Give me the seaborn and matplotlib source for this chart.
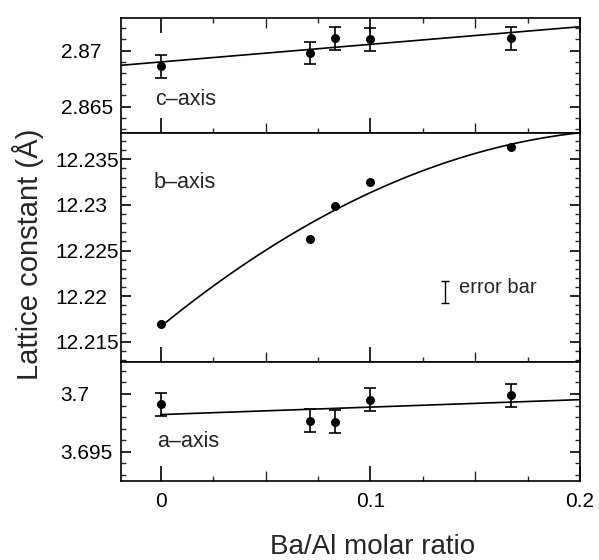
import numpy as np
import pandas as pd
import matplotlib
matplotlib.use("Agg")
import matplotlib.pyplot as plt
from matplotlib.ticker import MultipleLocator, FixedLocator, FuncFormatter, FormatStrFormatter
import seaborn as sns

# ---------------- data ----------------
ratio = [0.0, 0.071, 0.083, 0.100, 0.167]          # Ba/Al molar ratio
c_axis = [2.8686, 2.8698, 2.8711, 2.8710, 2.8711]   # c-axis (Å)
c_err = [0.001, 0.001, 0.001, 0.001, 0.001]
b_axis = [12.2169, 12.2263, 12.2299, 12.2325, 12.2364]  # b-axis (Å)
a_axis = [3.6991, 3.6977, 3.6976, 3.6995, 3.6999]   # a-axis (Å)
a_err = [0.001, 0.001, 0.001, 0.001, 0.001]

key_x = [0.1357]        # "error bar" key
key_y = [12.2205]
key_err = [0.0012]

x_tick_labels = ["0", "0.1", "0.2"]
panel_names = ["c\u2013axis", "b\u2013axis", "a\u2013axis"]

df = pd.DataFrame({"ratio": ratio, "c": c_axis, "b": b_axis, "a": a_axis})

# ---------------- style ----------------
sns.set_theme(style="ticks")
plt.rcParams["font.family"] = ["Liberation Sans", "DejaVu Sans"]
plt.rcParams["axes.linewidth"] = 1.2
plt.rcParams["axes.edgecolor"] = "black"

fig = plt.figure(figsize=(5.99, 5.60), dpi=100)
L, W = 121 / 599, (580 - 121) / 599
ax_c = fig.add_axes([L, 1 - 133 / 560, W, 115 / 560])
ax_b = fig.add_axes([L, 1 - 362 / 560, W, 229 / 560])
ax_a = fig.add_axes([L, 1 - 481 / 560, W, 119 / 560])

XLIM = (-0.019, 0.2)
ylims = {"c": (2.86265, 2.87292), "b": (12.21278, 12.23788), "a": (3.69246, 3.70277)}
label_pad = {"c": 43.5, "b": 47.5, "a": 43.5}   # left-aligned y tick labels

line_kw = dict(color="black", lw=1.2)

# c-axis: linear fit across full width
ax_c.set_xlim(*XLIM)
sns.regplot(data=df, x="ratio", y="c", ax=ax_c, scatter=False, ci=None,
            truncate=False, line_kws=line_kw)
# b-axis: quadratic fit from 0 to 0.2
ax_b.set_xlim(0, 0.2)
sns.regplot(data=df, x="ratio", y="b", ax=ax_b, scatter=False, ci=None, order=2,
            truncate=False, line_kws=line_kw)
# a-axis: linear fit from 0 to 0.2
ax_a.set_xlim(0, 0.2)
sns.regplot(data=df, x="ratio", y="a", ax=ax_a, scatter=False, ci=None,
            truncate=False, line_kws=line_kw)

# points
for ax, col in [(ax_c, "c"), (ax_b, "b"), (ax_a, "a")]:
    sns.scatterplot(data=df, x="ratio", y=col, ax=ax, color="black", s=42,
                    edgecolor="black", linewidth=0, zorder=5)

ax_c.errorbar(ratio, c_axis, yerr=c_err, fmt="none", ecolor="black",
              elinewidth=1.2, capsize=4, capthick=1.2, zorder=4)
ax_a.errorbar(ratio, a_axis, yerr=a_err, fmt="none", ecolor="black",
              elinewidth=1.2, capsize=4, capthick=1.2, zorder=4)
ax_b.errorbar(key_x, key_y, yerr=key_err, fmt="none", ecolor="black",
              elinewidth=1.0, capsize=3, capthick=1.0)
ax_b.text(0.1421, 12.2210, "error bar", fontsize=14.5, va="center", ha="left")

# panel names
ax_c.text(-0.0025, 2.8656, panel_names[0], fontsize=15.5, va="center", ha="left")
ax_b.text(-0.0035, 12.2324, panel_names[1], fontsize=15.5, va="center", ha="left")
ax_a.text(-0.002, 3.6959, panel_names[2], fontsize=15.5, va="center", ha="left")

minor_x = [0.025, 0.05, 0.075, 0.125, 0.15, 0.175]
for ax, key in [(ax_c, "c"), (ax_b, "b"), (ax_a, "a")]:
    ax.set_xlim(*XLIM)
    ax.set_ylim(*ylims[key])
    ax.set_xlabel("")
    ax.set_ylabel("")
    ax.xaxis.set_major_locator(MultipleLocator(0.1))
    ax.xaxis.set_minor_locator(FixedLocator(minor_x))
    ax.yaxis.set_major_locator(MultipleLocator(0.005))
    ax.yaxis.set_minor_locator(MultipleLocator(0.001))
    ax.yaxis.set_major_formatter(FormatStrFormatter("%g"))
    ax.tick_params(axis="y", which="major", direction="in", length=7, width=1.2,
                   left=True, right=True, labelsize=15, pad=label_pad[key],
                   colors="black")
    ax.tick_params(axis="y", which="minor", direction="in", length=3.5, width=1.0,
                   left=True, right=True)
    ax.tick_params(axis="x", which="major", direction="in", length=11, width=1.2,
                   bottom=True, top=(ax is ax_c), labelbottom=(ax is ax_a),
                   labelsize=15, pad=8, colors="black")
    ax.tick_params(axis="x", which="minor", direction="in", length=3.5, width=1.0,
                   bottom=True, top=(ax is ax_c))
    for s in ax.spines.values():
        s.set_linewidth(1.2)
        s.set_color("black")

def xfmt(v, pos):
    m = {0.0: x_tick_labels[0], 0.1: x_tick_labels[1], 0.2: x_tick_labels[2]}
    return m.get(round(v, 3), "")

ax_a.xaxis.set_major_formatter(FuncFormatter(xfmt))

fig.text(373 / 599, 1 - 547 / 560, "Ba/Al molar ratio", fontsize=20,
         ha="center", va="center")
fig.text(28 / 599, 1 - 254 / 560, "Lattice constant (\u00c5)", fontsize=21,
         ha="center", va="center", rotation=90)

fig.canvas.draw()
for ax in (ax_c, ax_b, ax_a):
    for lab in ax.get_yticklabels():
        lab.set_horizontalalignment("left")
    # medium-length ticks at 0.05 and 0.15
    for t in ax.xaxis.get_minor_ticks():
        loc = t.get_loc()
        if abs(loc - 0.05) < 1e-6 or abs(loc - 0.15) < 1e-6:
            t.tick1line.set_markersize(7)
            t.tick2line.set_markersize(7)

fig.savefig("out.png", dpi=100, facecolor="white")
